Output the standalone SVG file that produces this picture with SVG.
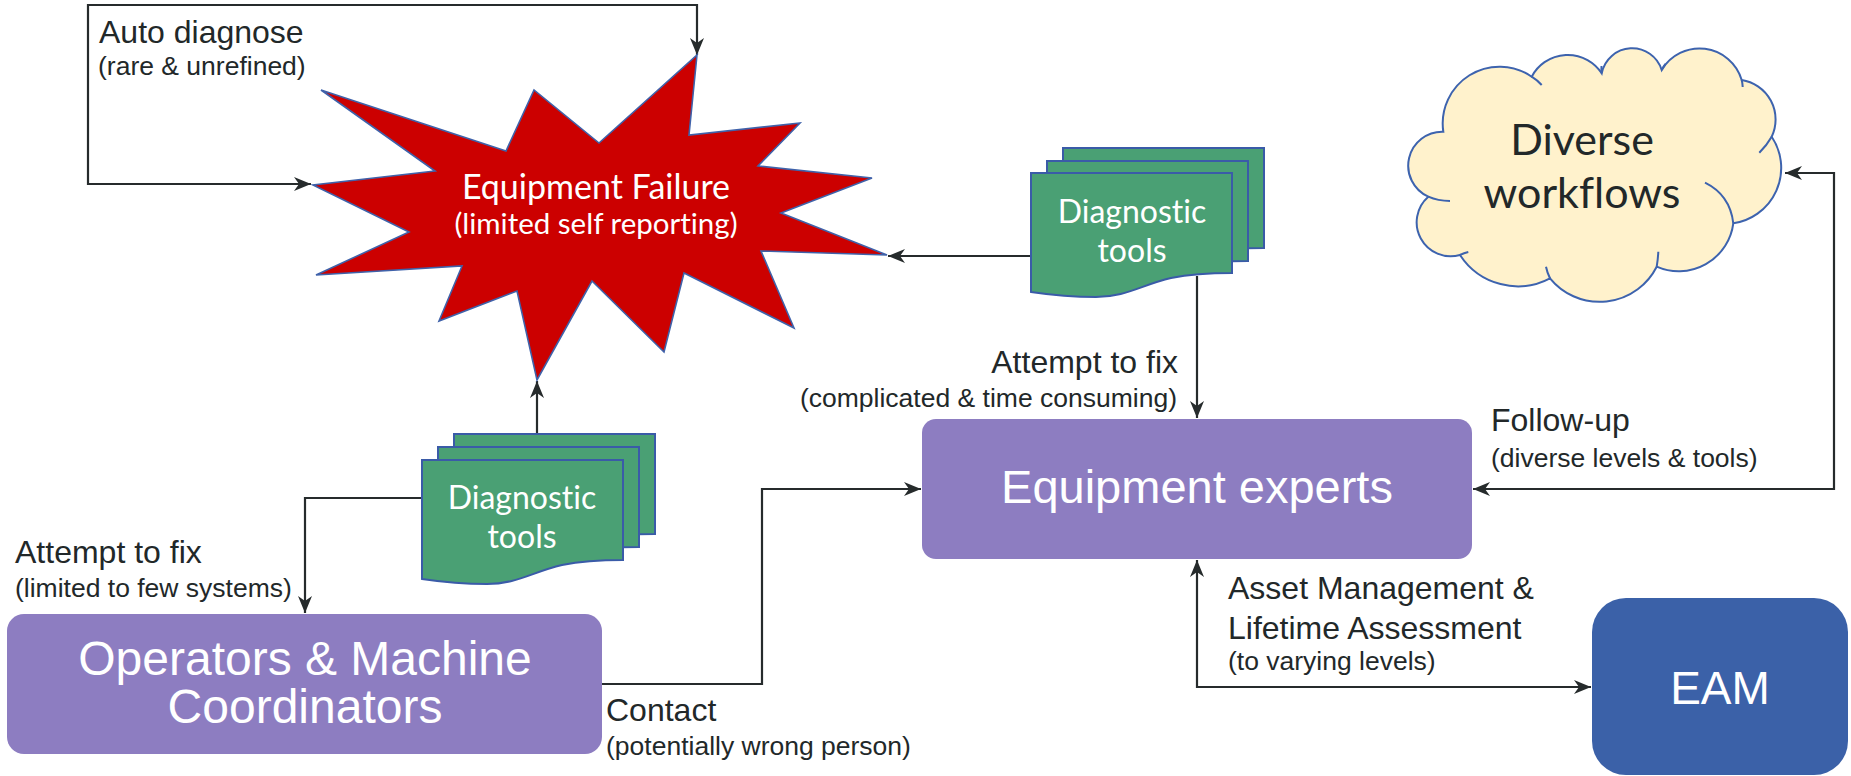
<svg xmlns="http://www.w3.org/2000/svg" width="1851" height="776" viewBox="0 0 1851 776">
  <style>
    .wire { fill: none; stroke: #262b2c; stroke-width: 2.2; }
    .lbl { font-family: "Liberation Sans", Arial, sans-serif; fill: #222829; }
    .t32 { font-size: 32px; }
    .t26 { font-size: 26.5px; }
    .box { fill: #8d7dc1; }
    .eam { fill: #3b61a8; }
    .boxtxt { font-family: "Liberation Sans", Arial, sans-serif; fill: #ffffff; text-anchor: middle; }
    .geo { font-family: Lato, "Open Sans", sans-serif; text-anchor: middle; font-variant-ligatures: none; }
    .doc { fill: #4aa074; stroke: #3a5ba8; stroke-width: 2; }
  </style>
  <defs>
    <marker id="arrow" viewBox="-18 -8 20 16" refX="0" refY="0" markerWidth="20" markerHeight="16" markerUnits="userSpaceOnUse" orient="auto-start-reverse">
      <path d="M0,0 L-17,-7 L-12,0 L-17,7 Z" fill="#262b2c"/>
    </marker>
    <path id="docShape" d="M0,0 H201 V100 C180,100 160,101 140,105 C110,112 95,124 65,124 C40,124 20,122 0,119 Z"/>
  </defs>
  <rect width="1851" height="776" fill="#ffffff"/>

  <!-- connectors -->
  <g id="connectors">
    <path class="wire" d="M697,55 V5 H88 V184 H311" marker-start="url(#arrow)" marker-end="url(#arrow)"/>
    <path class="wire" d="M1031,256 H888" marker-end="url(#arrow)"/>
    <path class="wire" d="M1197,276 V418" marker-end="url(#arrow)"/>
    <path class="wire" d="M537,434 V381" marker-end="url(#arrow)"/>
    <path class="wire" d="M422,498 H305 V613" marker-end="url(#arrow)"/>
    <path class="wire" d="M602,684 H762 V489 H921" marker-end="url(#arrow)"/>
    <path class="wire" d="M1473,489 H1834 V173 H1785" marker-start="url(#arrow)" marker-end="url(#arrow)"/>
    <path class="wire" d="M1197,560 V687 H1591" marker-start="url(#arrow)" marker-end="url(#arrow)"/>
  </g>

  <!-- connector labels -->
  <g id="labels">
    <text class="lbl t32" x="99" y="43">Auto diagnose</text>
    <text class="lbl t26" x="98" y="75">(rare &amp; unrefined)</text>
    <text class="lbl t32" x="1178" y="373" text-anchor="end">Attempt to fix</text>
    <text class="lbl t26" x="1177" y="407" text-anchor="end">(complicated &amp; time consuming)</text>
    <text class="lbl t32" x="15" y="563">Attempt to fix</text>
    <text class="lbl t26" x="15" y="597">(limited to few systems)</text>
    <text class="lbl t32" x="606" y="721">Contact</text>
    <text class="lbl t26" x="606" y="755">(potentially wrong person)</text>
    <text class="lbl t32" x="1491" y="431">Follow-up</text>
    <text class="lbl t26" x="1491" y="467">(diverse levels &amp; tools)</text>
    <text class="lbl t32" x="1228" y="599">Asset Management &amp;</text>
    <text class="lbl t32" x="1228" y="639">Lifetime Assessment</text>
    <text class="lbl t26" x="1228" y="670">(to varying levels)</text>
  </g>

  <!-- burst shape -->
  <g id="equipment-failure">
    <polygon fill="#cc0000" stroke="#3f62aa" stroke-width="1.6" stroke-linejoin="miter"
      points="697,55 689,135 800,123 758,166 872,178 781,213 887,255 761,251 794,328 684,273 664,352 592,281 537,380 517,291 439,321 462,266 316,275 409,232 313,185 435,171 321,90 506,151 534,90 599,143"/>
    <text class="geo" fill="#ffffff" font-size="34" x="596" y="199">Equipment Failure</text>
    <text class="geo" fill="#ffffff" font-size="29.5" x="596" y="234">(limited self reporting)</text>
  </g>

  <!-- upper document stack -->
  <g id="diagnostic-tools-upper" transform="translate(1031,173)">
    <use href="#docShape" class="doc" x="32" y="-25"/>
    <use href="#docShape" class="doc" x="16" y="-12"/>
    <use href="#docShape" class="doc"/>
    <text class="geo" fill="#ffffff" font-size="32" x="101" y="50">Diagnostic</text>
    <text class="geo" fill="#ffffff" font-size="32" x="101" y="89">tools</text>
  </g>

  <!-- lower document stack -->
  <g id="diagnostic-tools-lower" transform="translate(422,460)">
    <use href="#docShape" class="doc" x="32" y="-26"/>
    <use href="#docShape" class="doc" x="16" y="-13"/>
    <use href="#docShape" class="doc"/>
    <text class="geo" fill="#ffffff" font-size="32" x="100" y="49">Diagnostic</text>
    <text class="geo" fill="#ffffff" font-size="32" x="100" y="88">tools</text>
  </g>

  <!-- cloud -->
  <g id="diverse-workflows">
    <path fill="#fff2cc" stroke="#3d63ae" stroke-width="2"
      d="M1443.3,131.7 A34,34 0 0 0 1428.3,196.7 A34,34 0 0 0 1460,255 A69,69 0 0 0 1550,278.3 A64,64 0 0 0 1656.7,266.7 A55,55 0 0 0 1733.3,223.3 A56,56 0 0 0 1771.7,136.7 A40,40 0 0 0 1741.7,80 A44,44 0 0 0 1661.7,70 A31,31 0 0 0 1601.7,73.3 A40.6,40.6 0 0 0 1531.7,76.7 A56.8,56.8 0 0 0 1443.3,131.7 Z"/>
    <g fill="none" stroke="#3d63ae" stroke-width="2">
      <path d="M1428.3,196.7 Q1438,201 1450,201"/>
      <path d="M1460,255 Q1464,253 1468.3,252"/>
      <path d="M1550,278.3 Q1547,272 1546,266.7"/>
      <path d="M1656.7,266.7 Q1658,259 1658.3,251.7"/>
      <path d="M1705,182.7 Q1730,195 1733.3,223.3"/>
      <path d="M1759.3,152.7 Q1767,145 1771.7,136.7"/>
      <path d="M1741.7,80 Q1742.5,83 1742.7,87"/>
      <path d="M1661.7,70 Q1663,67 1665.5,64"/>
      <path d="M1601.7,73.3 Q1601.2,70 1601.5,66"/>
      <path d="M1531.7,76.7 Q1537,80 1541.7,85"/>
    </g>
    <text class="geo" fill="#222829" font-size="43" x="1582" y="155">Diverse</text>
    <text class="geo" fill="#222829" font-size="43" x="1582" y="208">workflows</text>
  </g>

  <!-- people / systems -->
  <g id="operators">
    <rect class="box" x="7" y="614" width="595" height="140" rx="17"/>
    <text class="boxtxt" font-size="48" x="305" y="675">Operators &amp; Machine</text>
    <text class="boxtxt" font-size="48" x="305" y="723">Coordinators</text>
  </g>
  <g id="equipment-experts">
    <rect class="box" x="922" y="419" width="550" height="140" rx="14"/>
    <text class="boxtxt" font-size="47" x="1197" y="503">Equipment experts</text>
  </g>
  <g id="eam">
    <rect class="eam" x="1592" y="598" width="256" height="177" rx="34"/>
    <text class="boxtxt" font-size="46" x="1720" y="704">EAM</text>
  </g>
</svg>
